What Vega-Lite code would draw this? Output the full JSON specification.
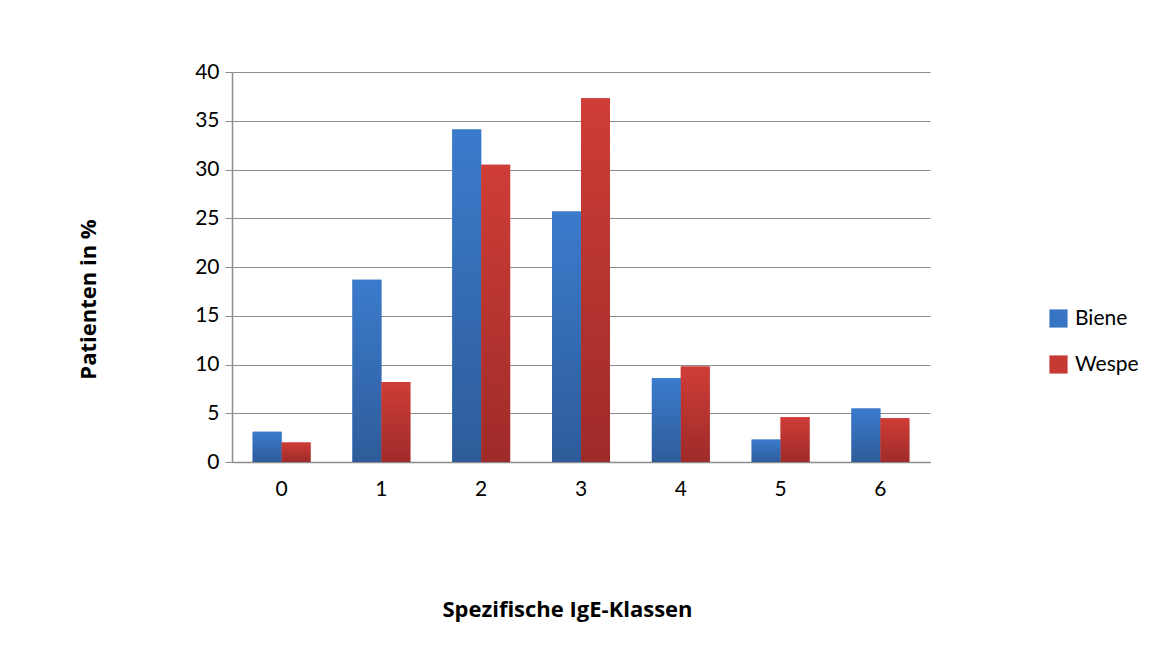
{
  "$schema": "https://vega.github.io/schema/vega-lite/v6.json",
  "width": 698,
  "height": 390,
  "autosize": {"type": "none"},
  "padding": {"left": 232, "top": 72, "right": 243, "bottom": 203},
  "background": "white",
  "config": {
    "font": "Lato",
    "view": {"stroke": null},
    "axis": {"labelFont": "Lato", "titleFont": "Open Sans", "labelColor": "black", "titleColor": "black"}
  },
  "data": {
    "values": [
      {"klasse": "0", "serie": "Biene", "wert": 3.1},
      {"klasse": "0", "serie": "Wespe", "wert": 2.0},
      {"klasse": "1", "serie": "Biene", "wert": 18.7},
      {"klasse": "1", "serie": "Wespe", "wert": 8.2},
      {"klasse": "2", "serie": "Biene", "wert": 34.1},
      {"klasse": "2", "serie": "Wespe", "wert": 30.5},
      {"klasse": "3", "serie": "Biene", "wert": 25.7},
      {"klasse": "3", "serie": "Wespe", "wert": 37.3},
      {"klasse": "4", "serie": "Biene", "wert": 8.6},
      {"klasse": "4", "serie": "Wespe", "wert": 9.8},
      {"klasse": "5", "serie": "Biene", "wert": 2.3},
      {"klasse": "5", "serie": "Wespe", "wert": 4.6},
      {"klasse": "6", "serie": "Biene", "wert": 5.5},
      {"klasse": "6", "serie": "Wespe", "wert": 4.5}
    ]
  },
  "encoding": {
    "x": {
      "field": "klasse", "type": "nominal",
      "scale": {"paddingInner": 0.42, "paddingOuter": 0.207},
      "axis": {
        "title": "Spezifische IgE-Klassen",
        "labelAngle": 0, "labelFontSize": 21, "labelPadding": 16,
        "ticks": false, "domainColor": "#8c8c8c", "domainWidth": 1.5,
        "titleFontSize": 22, "titleFontWeight": "bold",
        "titleX": 335, "titleY": 147, "titleBaseline": "middle", "titleAlign": "center"
      }
    },
    "xOffset": {"field": "serie", "type": "nominal", "scale": {"domain": ["Biene", "Wespe"]}},
    "y": {
      "field": "wert", "type": "quantitative",
      "scale": {"domain": [0, 40], "nice": false},
      "axis": {
        "title": "Patienten in %",
        "values": [0, 5, 10, 15, 20, 25, 30, 35, 40],
        "labelFontSize": 21, "labelPadding": 6,
        "tickSize": 7, "tickColor": "#8c8c8c", "domainColor": "#8c8c8c", "domainWidth": 1.5,
        "gridColor": "#8c8c8c", "gridWidth": 1,
        "titleFontSize": 22, "titleFontWeight": "bold",
        "titleX": -144, "titleY": 227, "titleBaseline": "middle", "titleAlign": "center"
      }
    }
  },
  "layer": [
    {
      "mark": {"type": "bar"},
      "encoding": {
        "color": {
          "field": "serie", "type": "nominal",
          "scale": {"domain": ["Biene", "Wespe"], "range": ["#3874c4", "#c63a36"]},
          "legend": {
            "title": null, "orient": "none", "legendX": 816, "legendY": 236,
            "symbolType": "square", "symbolSize": 330, "symbolStrokeWidth": 0,
            "labelFontSize": 21, "labelFont": "Lato", "rowPadding": 24, "labelOffset": 6
          }
        }
      }
    },
    {
      "transform": [{"filter": "datum.serie === 'Biene'"}],
      "mark": {
        "type": "bar",
        "color": {"gradient": "linear", "x1": 0, "y1": 0, "x2": 0, "y2": 1,
          "stops": [{"offset": 0, "color": "#3b7bcc"}, {"offset": 1, "color": "#2e5c9a"}]}
      }
    },
    {
      "transform": [{"filter": "datum.serie === 'Wespe'"}],
      "mark": {
        "type": "bar",
        "color": {"gradient": "linear", "x1": 0, "y1": 0, "x2": 0, "y2": 1,
          "stops": [{"offset": 0, "color": "#cf3d37"}, {"offset": 1, "color": "#9e2b29"}]}
      }
    }
  ]
}
